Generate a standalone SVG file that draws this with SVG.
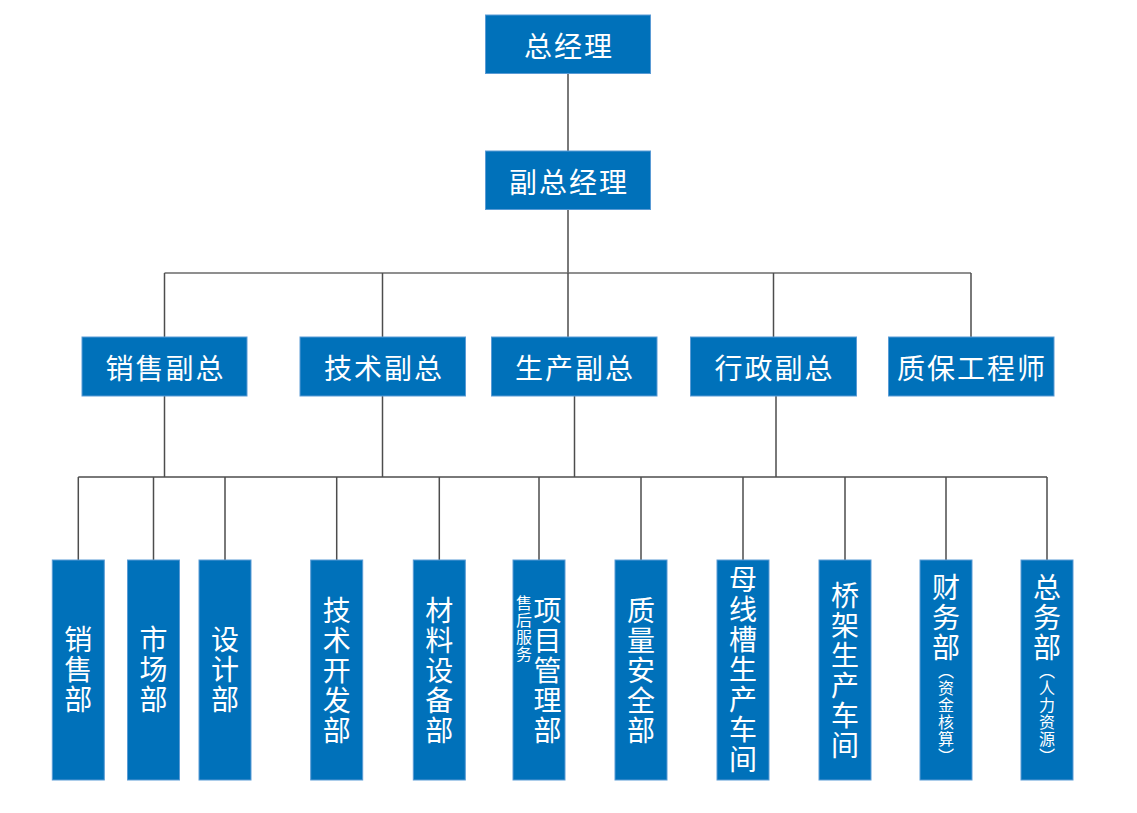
<svg xmlns="http://www.w3.org/2000/svg" width="1137" height="813" viewBox="0 0 1137 813">
<style>
.box{fill:#0071BA;stroke:#5A9BD5;stroke-width:1}
.t{font-family:"Noto Sans CJK SC","Noto Sans",sans-serif;font-size:28px;fill:#ffffff;text-anchor:middle;dominant-baseline:central;letter-spacing:2px}
.v{font-family:"Noto Sans CJK SC","Noto Sans",sans-serif;font-size:28px;fill:#ffffff;text-anchor:middle;writing-mode:vertical-rl;letter-spacing:2px}
.s{font-size:16px;letter-spacing:1px}
.ln{stroke:#4d4d4d;stroke-width:1.5;fill:none}
</style>
<rect width="1137" height="813" fill="#ffffff"/>
<g id="connectors">
<line class="ln" x1="568" y1="73" x2="568" y2="151"/>
<line class="ln" x1="568" y1="209" x2="568" y2="273"/>
<line class="ln" x1="164.5" y1="273" x2="971" y2="273" style="stroke:#6a6a6a;stroke-width:1.7"/>
<line class="ln" x1="164.5" y1="273" x2="164.5" y2="337"/>
<line class="ln" x1="382.5" y1="273" x2="382.5" y2="337"/>
<line class="ln" x1="568" y1="273" x2="568" y2="337"/>
<line class="ln" x1="773.5" y1="273" x2="773.5" y2="337"/>
<line class="ln" x1="971" y1="273" x2="971" y2="337"/>
<line class="ln" x1="164.5" y1="396" x2="164.5" y2="477"/>
<line class="ln" x1="382.5" y1="396" x2="382.5" y2="477"/>
<line class="ln" x1="574.5" y1="396" x2="574.5" y2="477"/>
<line class="ln" x1="776" y1="396" x2="776" y2="477"/>
<line class="ln" x1="78.3" y1="477" x2="1047" y2="477"/>
<line class="ln" x1="78.3" y1="477" x2="78.3" y2="560"/>
<line class="ln" x1="153.5" y1="477" x2="153.5" y2="560"/>
<line class="ln" x1="225" y1="477" x2="225" y2="560"/>
<line class="ln" x1="336.7" y1="477" x2="336.7" y2="560"/>
<line class="ln" x1="439.3" y1="477" x2="439.3" y2="560"/>
<line class="ln" x1="539" y1="477" x2="539" y2="560"/>
<line class="ln" x1="641" y1="477" x2="641" y2="560"/>
<line class="ln" x1="743" y1="477" x2="743" y2="560"/>
<line class="ln" x1="845" y1="477" x2="845" y2="560"/>
<line class="ln" x1="946" y1="477" x2="946" y2="560"/>
<line class="ln" x1="1047" y1="477" x2="1047" y2="560"/>
</g>
<g id="n-gm"><rect class="box" x="485.5" y="15" width="165" height="58.5"/><text class="t" x="569" y="44.5">总经理</text></g>
<g id="n-dgm"><rect class="box" x="485.5" y="151" width="165" height="58.5"/><text class="t" x="569" y="180.5">副总经理</text></g>
<g id="n-sales-vp"><rect class="box" x="82" y="337" width="165" height="59"/><text class="t" x="165.5" y="366.5">销售副总</text></g>
<g id="n-tech-vp"><rect class="box" x="300" y="337" width="165.5" height="59"/><text class="t" x="384" y="366.5">技术副总</text></g>
<g id="n-prod-vp"><rect class="box" x="491.5" y="337" width="165.5" height="59"/><text class="t" x="575" y="366.5">生产副总</text></g>
<g id="n-admin-vp"><rect class="box" x="690.5" y="337" width="166" height="59"/><text class="t" x="774.5" y="366.5">行政副总</text></g>
<g id="n-qa"><rect class="box" x="888.5" y="337" width="165.5" height="59"/><text class="t" x="972" y="366.5">质保工程师</text></g>
<g id="n-sales"><rect class="box" x="52.3" y="560" width="52" height="220"/><text class="v" x="78.3" y="670">销售部</text></g>
<g id="n-market"><rect class="box" x="127.5" y="560" width="52" height="220"/><text class="v" x="153.5" y="670">市场部</text></g>
<g id="n-design"><rect class="box" x="199" y="560" width="52" height="220"/><text class="v" x="225" y="670">设计部</text></g>
<g id="n-techdev"><rect class="box" x="310.7" y="560" width="52" height="220"/><text class="v" x="336.7" y="671">技术开发部</text></g>
<g id="n-material"><rect class="box" x="413.3" y="560" width="52" height="220"/><text class="v" x="439.3" y="671">材料设备部</text></g>
<g id="n-project"><rect class="box" x="513" y="560" width="52" height="220"/><text class="v" x="524" y="629" style="font-size:16px;letter-spacing:1px">售后服务</text><text class="v" x="547.5" y="671">项目管理部</text></g>
<g id="n-safety"><rect class="box" x="615" y="560" width="52" height="220"/><text class="v" x="641" y="671">质量安全部</text></g>
<g id="n-busbar"><rect class="box" x="717" y="560" width="52" height="220"/><text class="v" x="743" y="670">母线槽生产车间</text></g>
<g id="n-tray"><rect class="box" x="819" y="560" width="52" height="220"/><text class="v" x="845" y="671">桥架生产车间</text></g>
<g id="n-finance"><rect class="box" x="920" y="560" width="52" height="220"/><text class="v" x="946" y="669">财务部<tspan class="s">（资金核算）</tspan></text></g>
<g id="n-general"><rect class="box" x="1021" y="560" width="52" height="220"/><text class="v" x="1047" y="669">总务部<tspan class="s">（人力资源）</tspan></text></g>
</svg>
